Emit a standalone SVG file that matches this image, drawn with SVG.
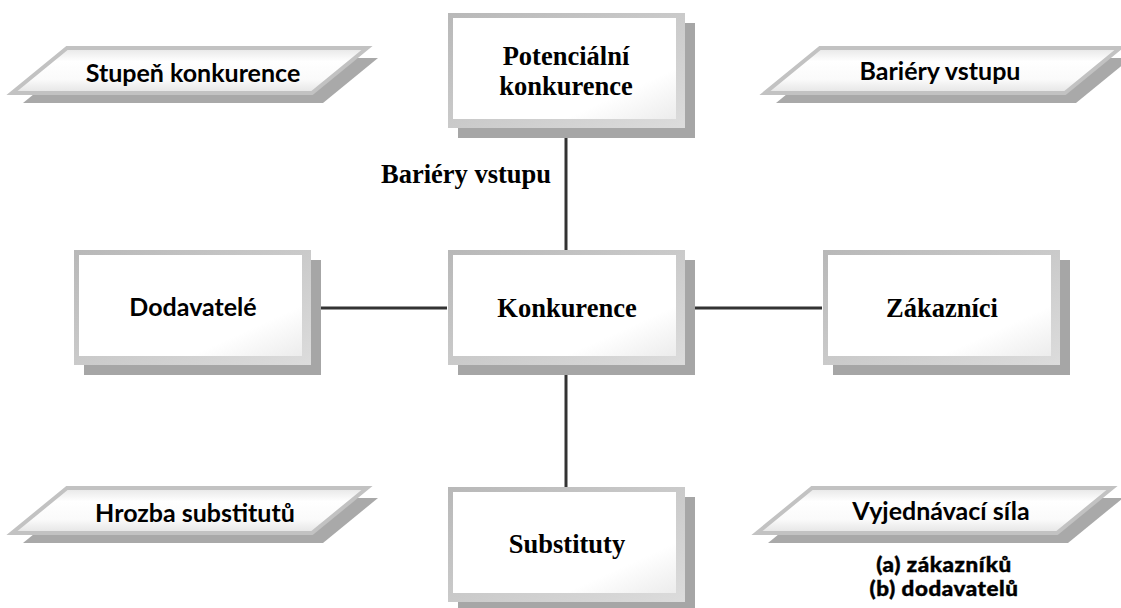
<svg xmlns="http://www.w3.org/2000/svg" xmlns:xlink="http://www.w3.org/1999/xlink" width="1121" height="608" viewBox="0 0 1121 608">
<style>
.sans{font-family:Lato,"Liberation Sans",sans-serif;font-weight:bold;font-size:25px;fill:#000;text-anchor:middle}
.serif{font-family:"Liberation Serif","Times New Roman",serif;font-weight:bold;font-size:26.5px;fill:#000;text-anchor:middle}
.heavy{font-family:Lato,"Liberation Sans",sans-serif;font-weight:900;font-size:20px;letter-spacing:0.5px;fill:#000;stroke:#000;stroke-width:0.4;text-anchor:middle}
.conn{stroke:#333;stroke-width:3;fill:none}
</style>
<defs>
<linearGradient id="boxg" x1="0" y1="0" x2="1" y2="1">
<stop offset="0" stop-color="#b8b8b8"/>
<stop offset="1" stop-color="#dcdcdc"/>
</linearGradient>
<linearGradient id="inner" x1="0" y1="0" x2="1" y2="1">
<stop offset="0.75" stop-color="#ffffff"/>
<stop offset="1" stop-color="#ececec"/>
</linearGradient>
<linearGradient id="parg" x1="0" y1="0" x2="0" y2="1">
<stop offset="0" stop-color="#e6e6e6"/>
<stop offset="0.3" stop-color="#ffffff"/>
<stop offset="0.7" stop-color="#fafafa"/>
<stop offset="1" stop-color="#e4e4e4"/>
</linearGradient>
<g id="box">
<rect x="10" y="10" width="237" height="115" fill="#a6a6a6"/>
<rect x="0" y="0" width="237" height="115" fill="url(#boxg)"/>
<rect x="5" y="5" width="223" height="101" fill="url(#inner)"/>
</g>
<g id="para">
<path d="M66,10 H366 L311,55 H11 Z" fill="#a9a9a9"/>
<path d="M55,0 H355 L300,45 H0 Z" fill="url(#parg)" stroke="#c2c2c2" stroke-width="4" stroke-linejoin="miter"/>
</g>
</defs>
<g id="connectors">
<line class="conn" x1="566" y1="127" x2="566" y2="250"/>
<line class="conn" x1="566" y1="365" x2="566" y2="487"/>
<line class="conn" x1="312" y1="308" x2="447" y2="308"/>
<line class="conn" x1="685" y1="308" x2="822" y2="308"/>
<text class="serif" x="466" y="183">Bariéry vstupu</text>
</g>
<g id="stupen">
<use xlink:href="#para" transform="translate(12,48)"/>
<text class="sans" x="193" y="82">Stupeň konkurence</text>
</g>
<g id="bariery">
<use xlink:href="#para" transform="translate(765,48)"/>
<text class="sans" x="940" y="80">Bariéry vstupu</text>
</g>
<g id="hrozba">
<use xlink:href="#para" transform="translate(12,488)"/>
<text class="sans" x="195" y="522">Hrozba substitutů</text>
</g>
<g id="vyjednavaci">
<use xlink:href="#para" transform="translate(757,488)"/>
<text class="sans" x="941" y="520">Vyjednávací síla</text>
<text class="heavy" transform="translate(944,0) scale(1.12,1)"><tspan x="0" y="572">(a) zákazníků</tspan><tspan x="0" y="596.5">(b) dodavatelů</tspan></text>
</g>
<g id="potencialni">
<use xlink:href="#box" transform="translate(448,13)"/>
<text class="serif" x="566" y="65">Potenciální</text>
<text class="serif" x="566" y="95">konkurence</text>
</g>
<g id="dodavatele">
<use xlink:href="#box" transform="translate(74,250)"/>
<text class="sans" x="193" y="316">Dodavatelé</text>
</g>
<g id="konkurence">
<use xlink:href="#box" transform="translate(448,250)"/>
<text class="serif" x="567" y="317">Konkurence</text>
</g>
<g id="zakaznici">
<use xlink:href="#box" transform="translate(823,250)"/>
<text class="serif" x="942" y="317">Zákazníci</text>
</g>
<g id="substituty">
<use xlink:href="#box" transform="translate(448,487)"/>
<text class="serif" x="567" y="553">Substituty</text>
</g>
</svg>
